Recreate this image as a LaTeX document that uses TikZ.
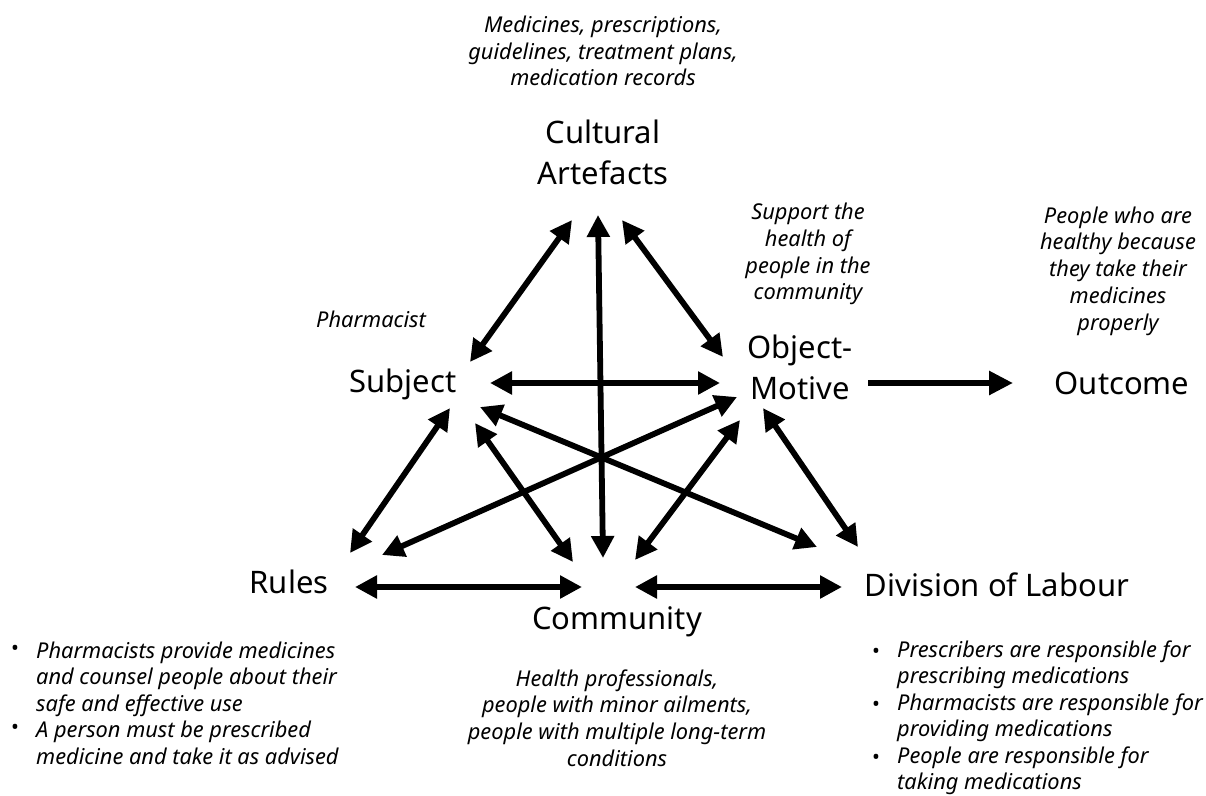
\documentclass[tikz,border=0pt]{standalone}
\usepackage{fontspec}
\setmainfont{Noto Sans}
\usetikzlibrary{arrows.meta}
\tikzset{
  lbl/.style={inner sep=0pt, align=center, font=\fontsize{31}{41}\selectfont},
  note/.style={inner sep=0pt, align=center, font=\fontsize{21.8}{26.7}\selectfont\itshape},
  notel/.style={inner sep=0pt, align=left, anchor=west, font=\fontsize{21.8}{26.5}\selectfont\itshape},
  bul/.style={inner sep=0pt, font=\fontsize{21}{24}\selectfont},
  link/.style={line width=5.8pt, {Triangle[length=22pt,width=22pt]}-{Triangle[length=22pt,width=22pt]}},
  onelink/.style={line width=5.8pt, -{Triangle[length=24pt,width=23pt]}}
}
\begin{document}
\begin{tikzpicture}[x=1pt,y=-1pt]
\useasboundingbox[fill=white] (0,0) rectangle (1206,795);

% main labels
\node[lbl] (cult) at (603,152) {Cultural\\Artefacts};
\node[lbl] (subj) at (403,384) {Subject};
\node[lbl] (obj) at (800,367) {Object-\\Motive};
\node[lbl] (out) at (1122,383) {Outcome};
\node[lbl] (rules) at (289,582) {Rules};
\node[lbl] (comm) at (617,622) {Community};
\node[lbl] (div) at (997,585) {Division of Labour};

% notes
\node[note] (ncult) at (603,51) {Medicines, prescriptions,\\guidelines, treatment plans,\\medication records};
\node[note] (nsubj) at (371,319) {Pharmacist};
\node[note] (nobj) at (808,254) {Support the\\health of\\people in the\\community};
\node[note] (nout) at (1118,271) {People who are\\healthy because\\they take their\\medicines\\properly};
\node[note] (ncomm) at (617,718) {Health professionals,\\people with minor ailments,\\people with multiple long-term\\conditions};
\node[notel] (nrules) at (36,703) {Pharmacists provide medicines\\and counsel people about their\\safe and effective use\\A person must be prescribed\\medicine and take it as advised};
\node[bul] (br1) at (15,650) {•};
\node[bul] (br2) at (15,729) {•};
\node[notel] (ndiv) at (897,718) {Prescribers are responsible for\\prescribing medications\\Pharmacists are responsible for\\providing medications\\People are responsible for\\taking medications};
\node[bul] (bd1) at (876,653) {•};
\node[bul] (bd2) at (876,706) {•};
\node[bul] (bd3) at (876,759) {•};

% arrow end points
\coordinate (sc1) at (470,362); \coordinate (sc2) at (572,220);
\coordinate (cc1) at (598,215); \coordinate (cc2) at (603,558);
\coordinate (co1) at (622,220); \coordinate (co2) at (723,357);
\coordinate (so1) at (490,383); \coordinate (so2) at (720,383);
\coordinate (oo1) at (868,383); \coordinate (oo2) at (1013,383);
\coordinate (sr1) at (450,408); \coordinate (sr2) at (350,553);
\coordinate (ro1) at (382,555); \coordinate (ro2) at (737,397);
\coordinate (scm1) at (475,423); \coordinate (scm2) at (573,562);
\coordinate (sd1) at (480,407); \coordinate (sd2) at (817,547);
\coordinate (ocm1) at (740,420); \coordinate (ocm2) at (635,560);
\coordinate (od1) at (763,408); \coordinate (od2) at (858,547);
\coordinate (rc1) at (355,587); \coordinate (rc2) at (582,587);
\coordinate (cd1) at (635,587); \coordinate (cd2) at (842,587);

% connectors
\draw[link] (sc1) -- (sc2);
\draw[link] (cc1) -- (cc2);
\draw[link] (co1) -- (co2);
\draw[link] (so1) -- (so2);
\draw[onelink] (oo1) -- (oo2);
\draw[link] (sr1) -- (sr2);
\draw[link] (ro1) -- (ro2);
\draw[link] (scm1) -- (scm2);
\draw[link] (sd1) -- (sd2);
\draw[link] (ocm1) -- (ocm2);
\draw[link] (od1) -- (od2);
\draw[link] (rc1) -- (rc2);
\draw[link] (cd1) -- (cd2);
\end{tikzpicture}
\end{document}
